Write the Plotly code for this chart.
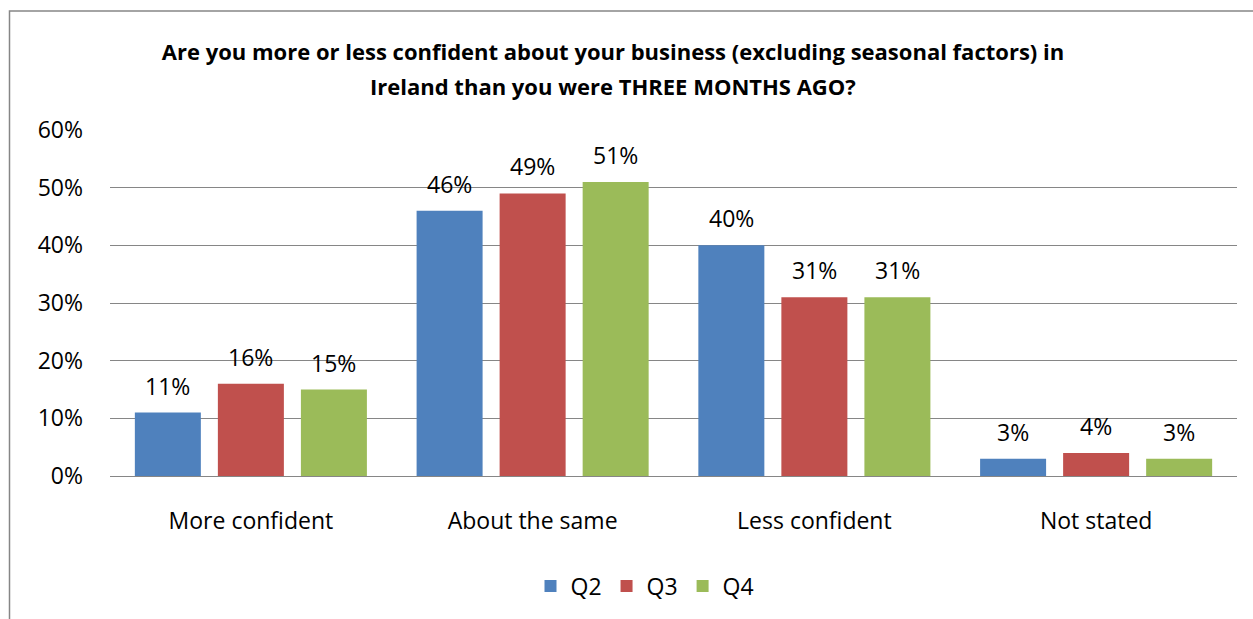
import plotly.graph_objects as go

categories = ["More confident", "About the same", "Less confident", "Not stated"]
q2 = [11, 46, 40, 3]
q3 = [16, 49, 31, 4]
q4 = [15, 51, 31, 3]
series_names = ["Q2", "Q3", "Q4"]
series_colors = ["#4F81BD", "#C0504D", "#9BBB59"]
y_ticks = [0, 10, 20, 30, 40, 50, 60]
title_lines = [
    "Are you more or less confident about your business (excluding seasonal factors) in",
    "Ireland than you were THREE MONTHS AGO?",
]

FONT = "Open Sans"
TXT = 23
W, H = 1253, 619
L, R, T, B = 110, 16, 130, 140
plot_w = W - L - R
plot_h = H - T - B

fig = go.Figure()
for name, vals, col in zip(series_names, [q2, q3, q4], series_colors):
    fig.add_trace(go.Bar(
        name=name, x=categories, y=vals,
        marker=dict(color=col, line=dict(width=0)),
    ))

# value labels above each bar
slot = plot_w / len(categories) * (1 - 0.116) / 3
for si, vals in enumerate([q2, q3, q4]):
    for cat, v in zip(categories, vals):
        fig.add_annotation(
            x=cat, y=v, xref="x", yref="y",
            text=f"{v}%", showarrow=False,
            xshift=(si - 1) * slot, yanchor="bottom", yshift=9,
            font=dict(family=FONT, size=TXT, color="#000000"),
        )

# second title line, set with the wider line spacing of the heading
fig.add_annotation(
    text=title_lines[1], xref="paper", yref="paper",
    x=(613 - L) / plot_w, xanchor="center",
    y=1 + (T - 86) / plot_h, yanchor="middle", showarrow=False,
    font=dict(family=FONT, size=22, color="#000000", weight="bold"),
)

# chart frame
fig.add_shape(
    type="rect", xref="paper", yref="paper",
    x0=(9.5 - L) / plot_w, x1=(W + 20 - L) / plot_w,
    y0=-(H + 20 - (T + plot_h)) / plot_h, y1=1 + (T - 10) / plot_h,
    line=dict(color="#868686", width=1.5), layer="below",
)

fig.update_layout(
    width=W, height=H,
    margin=dict(l=L, r=R, t=T, b=B),
    paper_bgcolor="white", plot_bgcolor="white",
    barmode="group", bargap=0.116, bargroupgap=0.205,
    title=dict(
        text=title_lines[0],
        x=613 / W, xanchor="center", y=1 - 52 / H, yanchor="middle",
        font=dict(family=FONT, size=22, color="#000000", weight="bold"),
    ),
    font=dict(family=FONT, size=TXT, color="#000000"),
    xaxis=dict(
        showgrid=False, showline=False, ticks="",
        tickfont=dict(family=FONT, size=TXT), ticklabelstandoff=29,
    ),
    yaxis=dict(
        range=[0, 60], tickvals=y_ticks, ticktext=[f"{t}%" for t in y_ticks],
        showgrid=True, gridcolor="#868686", gridwidth=1,
        zeroline=True, zerolinecolor="#868686", zerolinewidth=1.3,
        showline=False, ticks="", tickfont=dict(family=FONT, size=TXT),
        ticklabelstandoff=26,
    ),
    legend=dict(
        orientation="h", x=(645 - L) / plot_w, xanchor="center",
        y=-(590 - (T + plot_h)) / plot_h, yanchor="middle",
        font=dict(family=FONT, size=TXT), itemwidth=30,
        tracegroupgap=0,
    ),
)

fig.write_html("out.html")
